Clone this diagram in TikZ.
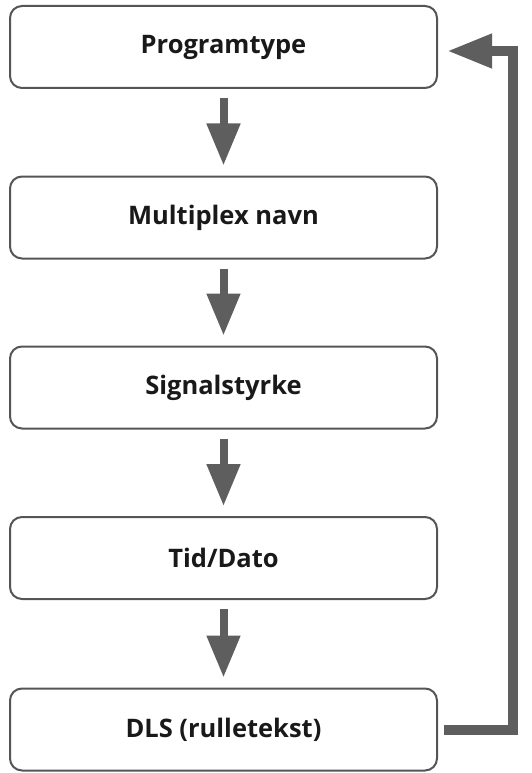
\documentclass[tikz,border=0pt]{standalone}
\usepackage{fontspec}
\setmainfont{Open Sans}
\usetikzlibrary{arrows.meta}
\definecolor{arrgray}{HTML}{5E5E5E}
\definecolor{boxgray}{HTML}{555555}
\begin{document}
\begin{tikzpicture}[x=1pt,y=-1pt,
  stepbox/.style={draw=boxgray, line width=2pt, rounded corners=12pt, fill=white,
    minimum width=427pt, minimum height=82pt, inner sep=0pt,
    font=\fontsize{25.5}{30}\selectfont\bfseries, text=black!90},
  downarr/.style={draw=arrgray, line width=8pt, -{Triangle[width=32pt,length=42pt]},
    shorten <=9pt, shorten >=10pt},
  fbarr/.style={draw=arrgray, line width=10pt, -{Triangle[width=32pt,length=45pt]},
    shorten <=6pt, shorten >=9pt}]
\useasboundingbox (0,0) rectangle (532,773);
\node[stepbox] (a) at (223.5,47) {Programtype};
\node[stepbox] (b) at (223.5,217.5) {Multiplex navn};
\node[stepbox] (c) at (223.5,387.5) {Signalstyrke};
\node[stepbox] (d) at (223.5,558) {Tid/Dato};
\node[stepbox] (e) at (223.5,729.5) {DLS (rulletekst)};
\draw[downarr] (a.south) -- (b.north);
\draw[downarr] (b.south) -- (c.north);
\draw[downarr] (c.south) -- (d.north);
\draw[downarr] (d.south) -- (e.north);
\coordinate (corner) at (513,729.5);
\draw[fbarr] (e.east) -- (corner) |- ([yshift=-4pt]a.east);
\end{tikzpicture}
\end{document}
